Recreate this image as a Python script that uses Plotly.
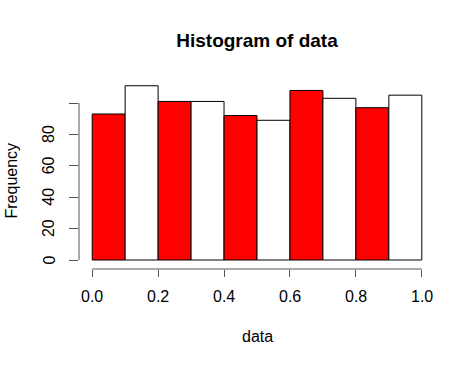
import plotly.graph_objects as go

# Histogram data (bin edges 0..1 by 0.1)
bin_left = [0.0, 0.1, 0.2, 0.3, 0.4, 0.5, 0.6, 0.7, 0.8, 0.9]
bin_width = 0.1
counts = [93, 111, 101, 101, 92, 89, 108, 103, 97, 105]
bar_colors = ["red", "white"] * 5

x_ticks = [0.0, 0.2, 0.4, 0.6, 0.8, 1.0]
x_tick_text = ["0.0", "0.2", "0.4", "0.6", "0.8", "1.0"]
y_ticks = [0, 20, 40, 60, 80, 100]
y_tick_text = ["0", "20", "40", "60", "80", ""]

centers = [b + bin_width / 2 for b in bin_left]

FONT = "Liberation Sans, Arial, sans-serif"
AX = "#555555"

fig = go.Figure(go.Bar(
    x=centers, y=counts, width=[bin_width] * len(counts),
    marker=dict(color=bar_colors, line=dict(color="black", width=1)),
    hoverinfo="x+y",
))

W, H = 476, 365
L, R, T, B = 79, 41, 79, 96
PW, PH = W - L - R, H - T - B


def px_x(px):
    return (px - L) / PW


def px_y(px):
    return (H - B - px) / PH


annotations = []
for v, t in zip(x_ticks, x_tick_text):
    annotations.append(dict(text=t, xref="x", yref="paper", x=v, y=px_y(296.5),
                            xanchor="center", yanchor="middle", showarrow=False,
                            font=dict(size=16, family=FONT, color="black")))
for v, t in zip(y_ticks, y_tick_text):
    if t:
        annotations.append(dict(text=t, xref="paper", yref="y", x=px_x(48.5), y=v,
                                xanchor="center", yanchor="middle", textangle=-90, showarrow=False,
                                font=dict(size=16, family=FONT, color="black")))
annotations += [
    dict(text="data", xref="paper", yref="paper", x=px_x(257), y=px_y(336),
         yanchor="middle", xanchor="center", showarrow=False,
         font=dict(size=16, family=FONT, color="black")),
    dict(text="Frequency", xref="paper", yref="paper", x=px_x(10.5), y=px_y(181),
         xanchor="center", yanchor="middle", textangle=-90, showarrow=False,
         font=dict(size=16, family=FONT, color="black")),
]

fig.update_layout(
    template="none",
    width=W, height=H,
    margin=dict(l=L, r=R, t=T, b=B, pad=0, autoexpand=False),
    paper_bgcolor="white", plot_bgcolor="white",
    showlegend=False,
    font=dict(family=FONT, size=16, color="black"),
    title=dict(text="<b>Histogram of data</b>", x=(92 + 422) / 2 / W, xanchor="center",
               y=1 - 40 / H, yanchor="middle", font=dict(size=19, family=FONT, color="black")),
    xaxis=dict(range=[-0.04, 1.04], tickvals=x_ticks, showticklabels=False, automargin=False,
               showgrid=False, zeroline=False, showline=False,
               ticks="outside", ticklen=7, tickcolor=AX, tickwidth=1),
    yaxis=dict(range=[-5.73, 115.3], tickvals=y_ticks, showticklabels=False, automargin=False,
               showgrid=False, zeroline=False, showline=False,
               ticks="outside", ticklen=9, tickcolor=AX, tickwidth=1),
    shapes=[
        dict(type="line", xref="x", yref="paper", x0=x_ticks[0], x1=x_ticks[-1], y0=0, y1=0,
             line=dict(color=AX, width=1)),
        dict(type="line", xref="paper", yref="y", x0=0, x1=0, y0=y_ticks[0], y1=y_ticks[-1],
             line=dict(color=AX, width=1)),
    ],
    annotations=annotations,
)

fig.write_html("out.html", config={"displayModeBar": False},
               post_script="document.body.style.margin='0px';document.body.style.overflow='hidden';")
